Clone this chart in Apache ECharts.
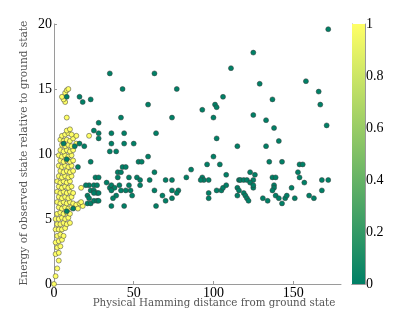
<!DOCTYPE html>
<html><head><meta charset="utf-8">
<script src="https://cdn.jsdelivr.net/npm/echarts@6/dist/echarts.min.js"></script>
<style>html,body{margin:0;padding:0;background:#fff}#c{width:415px;height:319px}</style>
</head><body><div id="c"></div>
<script>
const xTicks = [0, 50, 100, 150];
const yTicks = [0, 5, 10, 15, 20];
const cbTicks = [0, 0.2, 0.4, 0.6, 0.8, 1];
const xTitle = 'Physical Hamming distance from ground state';
const yTitle = 'Energy of observed state relative to ground state';
const highProb = 1;
const lowProb = 0;

// points with success probability ~1 (yellow)
const highProbPoints = [
[0,0],[1,0.6],[2,1.2],[3,1.8],[1,2.3],[3,2.4],[2,2.8],[4,2.9],[1,3.2],[3,3.3],[5,3.4],[2,3.7],[4,3.8],[6,3.7],
[1,4.2],[3,4.2],[5,4.2],[7,4.3],
[2,4.6],[4,4.6],[6,4.7],[8,4.6],[10,4.7],
[1,5.0],[3,5.0],[5,5.1],[7,5.0],[9,5.1],
[2,5.4],[4,5.5],[6,5.4],[8,5.5],[10,5.4],
[3,5.9],[5,5.8],[7,5.9],[9,5.8],[11,5.9],[13,5.9],
[2,6.3],[4,6.2],[6,6.3],[8,6.2],[10,6.3],[12,6.2],[14,6.1],[16,6.2],[18,6.0],[15,5.8],[17,6.3],
[3,6.7],[5,6.6],[7,6.7],[9,6.6],[11,6.7],
[2,7.1],[4,7.0],[6,7.1],[8,7.0],[10,7.1],[12,7.0],
[3,7.5],[5,7.4],[7,7.5],[9,7.4],[11,7.5],[17,7.4],
[2,7.9],[4,7.8],[6,7.9],[8,7.8],[10,7.9],
[3,8.3],[5,8.2],[7,8.3],[9,8.2],[11,8.3],
[4,8.7],[6,8.6],[8,8.7],[10,8.6],[12,8.7],
[3,9.1],[5,9.0],[7,9.1],[9,9.0],[11,9.1],
[4,9.5],[6,9.4],[8,9.5],[10,9.4],[12,9.5],
[3,9.9],[5,9.8],[7,9.9],[9,9.8],[11,9.9],
[4,10.3],[6,10.2],[8,10.3],[10,10.2],[12,10.3],
[5,10.7],[7,10.6],[9,10.7],[11,10.6],[14,10.8],
[4,11.1],[6,11.0],[8,11.1],[10,11.0],[12,11.2],[14,11.4],
[5,11.4],[7,11.5],[9,11.6],[11,11.5],[22,11.4],
[8,11.8],[10,11.9],
[8,12.8],[7,14.0],[6,14.2],[5,14.4],[7,14.7],[8,14.9],[9,15.0]
];

// points with success probability ~0 (green)
const lowProbPoints = [
[172,19.6],[125,17.8],[111,16.6],[35,16.2],[63,16.2],[158,15.6],[129,15.4],[43,15.0],[77,15.0],[166,14.8],
[16,14.4],[8,14.4],[106,14.4],[23,14.2],[18,14.0],[137,14.2],[59,13.8],[101,13.8],[102,13.6],[167,13.8],
[93,13.4],[125,13.0],[42,12.8],[74,12.8],[100,12.8],[133,12.6],[28,12.4],[171,12.2],[138,12.0],[25,11.8],
[36,11.6],[44,11.6],[28,11.6],[64,11.6],[28,11.2],[102,11.2],[16,10.8],[36,10.8],[44,10.8],[50,10.8],
[19,10.6],[141,11.0],[115,10.6],[133,10.6],[35,10.2],[39,10.2],[13,10.6],[6,10.8],[8,9.6],
[23,9.4],[53,9.4],[55,9.4],[59,9.8],[100,9.8],[15,9.0],[43,9.0],[45,9.0],[96,9.2],[104,9.2],
[135,9.4],[143,9.4],[154,9.2],[156,9.2],
[86,8.8],[40,8.6],[42,8.6],[63,8.6],[123,8.6],[153,8.6],[26,8.2],[28,8.2],[40,8.2],[47,8.2],
[52,8.2],[54,8.0],[83,8.2],[108,8.4],[126,8.4],[154,8.2],[125,8.0],[93,8.2],[94,8.0],[92,8.0],
[97,8.0],[70,8.0],[74,8.0],[116,8.0],[117,8.0],[119,8.0],[121,8.0],[137,8.2],[139,8.2],[168,8.0],
[172,8.0],[60,8.0],[157,7.8],[123,7.8],
[33,7.8],[22,7.6],[25,7.6],[27,7.6],[35,7.4],[36,7.6],[38,7.4],[41,7.6],[47,7.6],[48,7.2],
[54,7.6],[20,7.6],[23,7.2],[25,7.2],[27,7.0],[36,7.2],[42,7.2],[45,7.2],[63,7.2],[74,7.2],
[78,7.2],[77,7.0],[97,7.0],[102,7.2],[105,7.2],[106,7.4],[108,7.6],[115,7.4],[116,7.2],[119,7.0],
[125,7.4],[125,7.6],[138,7.6],[138,7.4],[137,7.2],[149,7.4],[168,7.2],
[68,6.8],[74,6.6],[70,6.4],[64,6.0],[39,6.8],[37,6.6],[49,6.8],[36,6.0],[44,6.0],[21,6.8],
[22,6.6],[21,6.2],[23,6.2],[25,6.4],[27,6.4],[28,6.4],[25,7.0],[28,7.0],[97,6.6],[115,6.8],
[120,6.8],[121,6.6],[122,6.4],[131,6.6],[134,6.4],[139,6.8],[141,6.6],[143,6.2],[145,6.6],[146,6.8],
[151,6.6],[160,6.8],[163,6.6],[12,5.8],[8,5.6]
];

const scatterData = highProbPoints.map(p => [p[0], p[1], highProb])
  .concat(lowProbPoints.map(p => [p[0], p[1], lowProb]));

const serif = 'Liberation Serif';
const axisGray = '#9a9a9a';
const chart = echarts.init(document.getElementById('c'), null, {renderer: 'canvas'});
chart.setOption({
  animation: false,
  backgroundColor: '#fff',
  grid: [
    {left: 54, right: 74, top: 24, bottom: 35},
    {left: 352, width: 13, top: 24, height: 260}
  ],
  xAxis: [
    {gridIndex: 0, type: 'value', min: 0, max: 180, interval: 50,
     axisLine: {show: true, lineStyle: {color: axisGray, width: 1}},
     axisTick: {show: true, inside: true, length: 3, customValues: xTicks, lineStyle: {color: axisGray}},
     axisLabel: {customValues: xTicks, color: '#000', fontFamily: serif, fontSize: 14, margin: 2},
     splitLine: {show: false}},
    {gridIndex: 1, type: 'category', data: ['c'], position: 'bottom',
     axisLine: {show: true, lineStyle: {color: axisGray}}, axisTick: {show: false}, axisLabel: {show: false}},
    {gridIndex: 1, type: 'category', data: ['c'], position: 'top',
     axisLine: {show: true, lineStyle: {color: axisGray}}, axisTick: {show: false}, axisLabel: {show: false}}
  ],
  yAxis: [
    {gridIndex: 0, type: 'value', min: 0, max: 20, interval: 5,
     axisLine: {show: true, lineStyle: {color: axisGray, width: 1}},
     axisTick: {show: true, inside: true, length: 3, customValues: yTicks, lineStyle: {color: axisGray}},
     axisLabel: {customValues: yTicks, color: '#000', fontFamily: serif, fontSize: 14, margin: 2},
     splitLine: {show: false}},
    {gridIndex: 1, type: 'value', min: 0, max: 1, interval: 0.2, position: 'right',
     axisLine: {show: true, lineStyle: {color: axisGray}},
     axisTick: {show: true, inside: true, length: 2, lineStyle: {color: axisGray}},
     axisLabel: {color: '#000', fontFamily: serif, fontSize: 14, margin: 1},
     splitLine: {show: false}},
    {gridIndex: 1, type: 'value', min: 0, max: 1, interval: 0.2, position: 'left',
     axisLine: {show: true, lineStyle: {color: axisGray}},
     axisTick: {show: true, inside: true, length: 2, lineStyle: {color: axisGray}},
     axisLabel: {show: false}, splitLine: {show: false}}
  ],
  visualMap: {show: false, seriesIndex: 0, dimension: 2, min: 0, max: 1,
    inRange: {color: ['#008066', '#ffff66']}},
  series: [
    {type: 'scatter', xAxisIndex: 0, yAxisIndex: 0, data: scatterData, symbolSize: 5,
     itemStyle: {borderColor: '#3a3a3a', borderWidth: 0.5, opacity: 1}},
    {type: 'bar', xAxisIndex: 1, yAxisIndex: 1, data: [1], barWidth: '100%', silent: true,
     itemStyle: {color: new echarts.graphic.LinearGradient(0, 1, 0, 0,
       [{offset: 0, color: '#008066'}, {offset: 1, color: '#ffff66'}])}}
  ],
  graphic: [
    {type: 'text', x: 214, y: 303, style: {text: xTitle, align: 'center', verticalAlign: 'middle',
      font: '10.3px "DejaVu Serif"', fill: '#555'}},
    {type: 'text', x: 24, y: 153, rotation: Math.PI / 2, style: {text: yTitle, align: 'center',
      verticalAlign: 'middle', font: '10.6px "DejaVu Serif"', fill: '#555'}}
  ]
});
</script></body></html>
